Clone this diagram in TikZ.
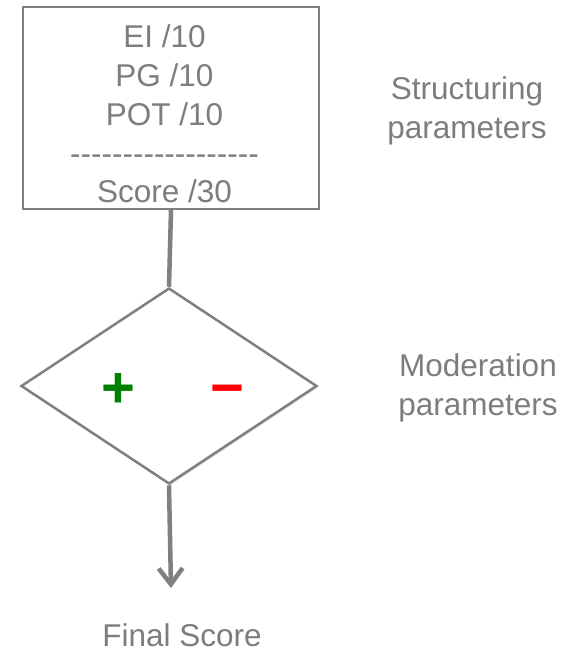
\documentclass[tikz,border=0pt]{standalone}
\usepackage{fontspec}
\setmainfont{Liberation Sans}
\usetikzlibrary{shapes.geometric,arrows.meta,shadows}
\definecolor{linegray}{RGB}{128,128,128}
\definecolor{textgray}{RGB}{125,125,125}
\definecolor{plusgreen}{RGB}{0,128,0}
\newcommand{\dashrow}{\foreach \i in {1,...,18}{-}}

\begin{document}
\begin{tikzpicture}[x=1pt, y=-1pt, line width=2pt,
    txt/.style={text=textgray, font=\fontsize{31.5}{38.75}\selectfont, align=center, inner sep=0pt},
    sign/.style={font=\fontsize{58}{58}\selectfont\bfseries, inner sep=0pt}]
        \useasboundingbox (0,0) rectangle (573,653);

        % structuring parameters
        \node[draw=linegray, minimum width=296pt, minimum height=202pt, inner sep=0pt] (struct) at (171,108) {};
        \node[txt] (scores) at (164.5,114) {EI /10\\PG /10\\POT /10\\\dashrow\\Score /30};

        % moderation
        \node[draw=linegray, line width=2.5pt, fill=white, diamond, aspect=1.5, inner sep=0pt,
              minimum width=296pt, minimum height=196pt,
              drop shadow={opacity=0.2, shadow xshift=1pt, shadow yshift=-2pt}] (mod) at (169,386) {};
        \node[sign, text=plusgreen] (plus) at (118,390) {+};
        \node[sign, text=red] (minus) at (227,396) {−};

        % connectors
        \draw[linegray, line width=4.5pt] (struct.south) -- (mod.north);
        \coordinate (tip) at (171,588);
        \draw[linegray, line width=4.5pt, -{Straight Barb[length=16pt, width=24pt]}] (mod.south) -- (tip);

        % labels
        \node[txt] (final) at (182,635) {Final Score};
        \node[txt] (structlbl) at (467,111) {Structuring\\parameters};
        \node[txt] (modlbl) at (478,388) {Moderation\\parameters};
    \end{tikzpicture}
\end{document}
